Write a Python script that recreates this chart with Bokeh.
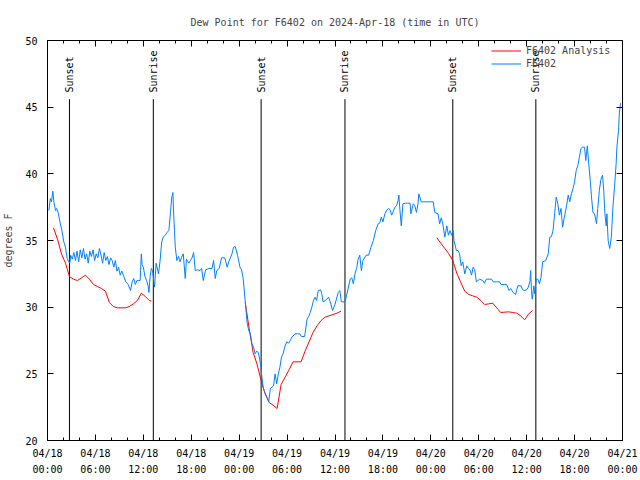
import math
from bokeh.plotting import figure
from bokeh.models import Range1d, FixedTicker, LinearAxis, Legend, LegendItem
from bokeh.core.properties import value
from bokeh.embed import file_html
from bokeh.resources import INLINE

FONT = "DejaVu Sans Mono"
NAN = float("nan")

# hours since 2024-04-18 00:00 UTC
obs_hours = [0.17, 0.35, 0.5, 0.67, 0.8, 1.0, 1.15, 1.33, 1.6, 1.8, 2.04, 2.25, 2.46, 2.67, 2.8, 2.9,
             3.1, 3.3, 3.5, 3.7, 3.9, 4.1, 4.3, 4.5, 4.7, 4.9, 5.1, 5.3, 5.5, 5.7, 5.9, 6.1, 6.3, 6.5,
             6.7, 6.9, 7.1, 7.3, 7.5, 7.7, 7.9, 8.1, 8.3, 8.5, 8.7, 8.9, 9.1, 9.3, 9.5, 9.8, 10.1,
             10.4, 10.6, 10.8, 11.0, 11.2, 11.4, 11.6, 11.75, 11.85, 12.0, 12.2, 12.4, 12.6, 12.7,
             12.85, 13.0, 13.15, 13.4, 13.6, 13.9, 14.1, 14.3, 14.5, 14.75, 14.96, 15.2, 15.4, 15.55,
             15.7, 15.8, 15.9, 16.0, 16.2, 16.4, 16.6, 16.8, 17.0, 17.25, 17.4, 17.5, 17.7, 17.9,
             18.1, 18.3, 18.5, 18.8, 19.1, 19.3, 19.5, 19.8, 20.2, 20.6, 20.8, 21.0, 21.2, 21.5,
             21.8, 22.2, 22.5, 22.7, 22.9, 23.1, 23.3, 23.5, 23.8, 24.1, 24.3, 24.5, 24.75, 25.0,
             25.2, 25.4, 25.6, 25.8, 26.0, 26.2, 26.4, 26.6, 26.7, 26.8, 27.0, 27.2, 27.5, 27.7,
             27.9, 28.1, 28.3, 28.5, 28.7, 28.9, 29.1, 29.3, 29.5, 29.7, 29.96, 30.2, 30.4, 30.6,
             31.0, 31.3, 31.6, 31.8, 32.2, 32.5, 32.7, 32.9, 33.1, 33.3, 33.5, 33.7, 33.9, 34.2,
             34.35, 34.5, 34.8, 35.0, 35.2, 35.4, 35.7, 36.0, 36.4, 36.6, 36.8, 37.25, 37.5, 37.9,
             38.1, 38.3, 38.5, 38.7, 38.9, 39.1, 39.3, 39.5, 39.9, 40.2, 40.5, 40.8, 41.1, 41.4,
             41.6, 41.8, 42.0, 42.25, 42.5, 42.7, 42.9, 43.1, 43.3, 43.5, 43.7, 43.9, 44.0, 44.1,
             44.3, 44.5, 44.8, 45.1, 45.4, 45.5, 45.8, 46.0, 46.2, 46.4, 46.5, 46.8, 47.0, 47.5,
             48.0, 48.3, 48.5, 48.9, 49.1, 49.3, 49.5, 49.75, 50.0, 50.2, 50.4, 50.6, 50.8, 50.9,
             51.2, 51.4, 51.6, 51.8, 52.0, 52.25, 52.5, 52.7, 52.9, 53.1, 53.3, 53.5, 53.7, 54.1,
             54.5, 54.7, 54.96, 55.3, 55.6, 55.8, 56.2, 56.6, 56.8, 57.2, 57.5, 57.8, 58.0, 58.3,
             58.6, 58.9, 59.3, 59.5, 59.75, 60.0, 60.2, 60.4, 60.5, 60.6, 60.7, 60.9, 61.0, 61.2,
             61.4, 61.6, 61.8, 62.0, 62.4, 62.7, 62.9, 63.1, 63.3, 63.5, 63.7, 63.9, 64.1, 64.3,
             64.5, 64.7, 65.0, 65.2, 65.4, 65.6, 65.8, 66.0, 66.2, 66.4, 66.6, 66.8, 67.0, 67.25,
             67.4, 67.6, 67.75, 67.96, 68.1, 68.3, 68.5, 68.75, 68.9, 69.1, 69.3, 69.5, 69.65, 69.8,
             69.96, 70.05, 70.2, 70.4, 70.6, 70.8, 71.0, 71.2, 71.3, 71.5, 71.6, 71.75]
obs_dewpt = [37.25, 38.15, 37.9, 38.7, 37.9, 37.25, 37.4, 37.1, 36.3, 35.75, 34.9, 34.5, 33.65, 33.4, 33.3, 33.9,
             33.6, 34.1, 33.5, 34.2, 33.4, 34.3, 33.7, 34.4, 33.6, 34.0, 33.3, 34.2, 33.8, 34.3, 33.5, 34.0, 33.7, 34.4,
             33.9, 33.3, 34.1, 33.5, 33.8, 33.2, 33.7, 33.5, 33.0, 33.5, 32.7, 33.0, 32.4, 32.7, 32.4, 31.9, 31.7,
             31.25, 31.9, 32.15, 31.7, 32.0, 32.0, 32.0, 34.0, 33.2, 33.0, 32.3, 32.0, 31.6, 31.1,
             32.3, 32.9, 32.75, 31.5, 33.3, 32.5, 33.5, 34.9, 35.25, 35.4, 35.6, 35.75, 37.1, 38.2,
             38.6, 37.0, 35.75, 34.5, 33.5, 33.8, 33.4, 33.75, 34.0, 32.15, 33.6, 33.5, 33.3, 33.5,
             33.7, 34.1, 32.75, 32.8, 32.75, 32.9, 32.0, 32.8, 32.9, 32.9, 33.5, 32.15, 32.75, 32.9,
             33.7, 33.7, 33.0, 33.4, 33.7, 34.0, 34.5, 34.55, 33.9, 33.0, 32.8, 32.15, 30.5, 28.8,
             28.25, 28.0, 27.25, 27.0, 26.5, 26.7, 26.6, 26.0, 25.6, 25.0, 24.0, 23.6, 23.25, 22.9,
             23.9, 24.0, 24.1, 25.0, 24.25, 25.0, 25.5, 26.25, 26.5, 27.0, 27.4, 27.3, 27.5, 27.75,
             28.0, 28.0, 28.0, 27.8, 27.8, 29.1, 29.3, 29.6, 30.0, 30.5, 30.75, 30.5, 31.25, 31.3,
             31.0, 30.4, 30.5, 30.6, 30.75, 30.4, 29.75, 30.2, 31.1, 31.25, 30.4, 30.4, 31.0, 32.1,
             32.2, 31.75, 32.5, 32.9, 33.6, 33.9, 32.75, 33.5, 33.9, 33.9, 34.5, 35.0, 35.75, 36.25,
             36.3, 36.75, 36.4, 37.0, 37.3, 37.4, 37.3, 36.9, 37.2, 37.5, 37.6, 38.0, 38.4, 37.5,
             36.1, 37.75, 37.8, 37.8, 37.8, 37.0, 37.75, 37.6, 37.1, 37.8, 38.5, 37.9, 37.9, 37.9,
             37.9, 37.9, 37.1, 37.0, 36.25, 36.7, 36.25, 35.25, 36.1, 35.4, 35.75, 35.4, 35.75, 35.0,
             34.25, 34.25, 34.0, 33.1, 33.4, 32.5, 33.1, 32.9, 32.8, 32.4, 33.0, 32.8, 31.9, 32.1,
             32.0, 31.8, 32.1, 32.1, 32.1, 31.9, 31.9, 31.9, 31.7, 31.7, 31.7, 31.25, 31.4, 31.1,
             30.95, 31.6, 31.6, 31.3, 31.25, 31.3, 31.5, 31.9, 32.75, 31.25, 30.6, 31.6, 31.0, 32.1,
             32.1, 31.75, 32.25, 33.4, 33.5, 34.0, 35.25, 35.3, 35.75, 37.0, 38.25, 37.75, 36.9, 37.4,
             36.0, 36.7, 37.6, 38.4, 37.9, 38.5, 38.9, 39.4, 40.25, 40.6, 41.25, 41.9, 42.0, 42.0,
             41.0, 42.1, 40.9, 39.5, 38.4, 37.1, 37.0, 36.25, 37.4, 38.75, 39.6, 39.9, 38.75, 37.0,
             36.1, 37.0, 35.0, 34.4, 35.25, 37.5, 39.0, 40.75, 42.0, 43.25, 44.5, 45.3]

# analysis, three night-time segments (NaN separates them)
ana_hours = [0.75, 1.25, 1.75, 2.25, 2.75, 3.25, 3.75, 4.25, 4.75, 5.25, 5.75, 6.25, 6.75, 7.25,
             7.75, 8.25, 8.75, 9.75, 10.25, 10.75, 11.25, 11.75, 12.25, 12.75, 13.0, NAN,
             24.75, 25.25, 25.75, 26.25, 26.75, 27.25, 27.75, 28.25, 28.75, 29.25, 29.75, 30.25,
             30.75, 31.75, 32.25, 32.75, 33.25, 33.75, 34.25, 34.75, 35.25, 35.75, 36.25, 36.75, NAN,
             48.75, 49.25, 49.75, 50.25, 50.75, 51.25, 51.75, 52.25, 52.75, 53.25, 53.75, 54.25,
             54.75, 55.25, 55.75, 56.25, 56.75, 57.75, 58.25, 58.75, 59.25, 59.75, 60.25, 60.75]
ana_dewpt = [35.95, 35.1, 34.0, 33.3, 32.3, 32.1, 32.0, 32.2, 32.4, 32.1, 31.7, 31.55, 31.4, 31.2,
             30.35, 30.05, 29.95, 29.95, 30.05, 30.25, 30.5, 31.05, 30.8, 30.5, 30.45, NAN,
             30.4, 28.4, 26.6, 25.7, 24.5, 23.5, 22.85, 22.65, 22.4, 24.2, 24.75, 25.3,
             25.9, 25.9, 26.7, 27.4, 28.1, 28.6, 29.0, 29.25, 29.35, 29.45, 29.55, 29.7, NAN,
             35.2, 34.8, 34.4, 34.0, 33.5, 32.55, 31.85, 31.2, 30.95, 30.85, 30.75, 30.5,
             30.2, 30.25, 30.3, 29.95, 29.6, 29.65, 29.6, 29.55, 29.35, 29.05, 29.5, 29.75]

event_hours = [2.75, 13.25, 26.75, 37.25, 50.75, 61.15]
event_labels = ["Sunset", "Sunrise", "Sunset", "Sunrise", "Sunset", "Sunrise"]

tick_hours = [0, 6, 12, 18, 24, 30, 36, 42, 48, 54, 60, 66, 72]
tick_labels = ["04/18\n00:00", "04/18\n06:00", "04/18\n12:00", "04/18\n18:00",
               "04/19\n00:00", "04/19\n06:00", "04/19\n12:00", "04/19\n18:00",
               "04/20\n00:00", "04/20\n06:00", "04/20\n12:00", "04/20\n18:00",
               "04/21\n00:00"]
minor_hours = [h for h in range(0, 73, 2) if h % 6 != 0]
y_ticks = [20, 25, 30, 35, 40, 45, 50]

p = figure(width=640, height=480, output_backend="svg", toolbar_location=None,
           x_range=Range1d(0, 72), y_range=Range1d(20, 50),
           title="Dew Point for F6402 on 2024-Apr-18 (time in UTC)",
           min_border_left=47, min_border_right=18, min_border_top=40, min_border_bottom=40)
p.title.align = "center"
p.title.text_font = FONT
p.title.text_font_size = "10px"
p.title.text_font_style = "normal"
p.title.standoff = 25
p.outline_line_color = "black"
p.xgrid.visible = False
p.ygrid.visible = False
p.background_fill_color = "white"
p.border_fill_color = "white"

xa = p.xaxis[0]
xa.ticker = FixedTicker(ticks=tick_hours, minor_ticks=minor_hours)
xa.major_label_overrides = dict(zip(tick_hours, tick_labels))
ya = p.yaxis[0]
ya.ticker = FixedTicker(ticks=y_ticks)
ya.axis_label = "degrees F"

def style_axis(ax, standoff):
    ax.major_tick_in = 6
    ax.major_tick_out = 0
    ax.minor_tick_in = 3
    ax.minor_tick_out = 0
    ax.axis_line_color = "black"
    ax.major_tick_line_color = "black"
    ax.minor_tick_line_color = "black"
    ax.major_label_text_font = FONT
    ax.major_label_text_font_size = "10px"
    ax.major_label_text_color = "black"
    ax.major_label_standoff = standoff
    ax.axis_label_text_font = FONT
    ax.axis_label_text_font_size = "10px"
    ax.axis_label_text_font_style = "normal"
    ax.axis_label_standoff = 8

style_axis(xa, 7)
xa.major_label_text_line_height = 1.5
style_axis(ya, 10)
ya.minor_tick_line_color = None

top = LinearAxis(ticker=FixedTicker(ticks=tick_hours, minor_ticks=minor_hours))
style_axis(top, 0)
top.major_label_overrides = {t: "" for t in tick_hours}
p.add_layout(top, "above")
right = LinearAxis(ticker=FixedTicker(ticks=y_ticks))
style_axis(right, 0)
right.major_label_overrides = {t: "" for t in y_ticks}
right.minor_tick_line_color = None
p.add_layout(right, "right")

# sunrise / sunset markers
p.segment(x0=event_hours, x1=event_hours, y0=[20] * 6, y1=[45.6] * 6,
          line_color="black", line_width=1)
p.text(x=event_hours, y=[46.1] * 6, text=event_labels, angle=math.pi / 2,
       text_align="left", text_baseline="middle", text_font=value(FONT),
       text_font_size="10px", text_color="black")

r_ana = p.line(ana_hours, ana_dewpt, line_color="#ff0000", line_width=1)
r_obs = p.line(obs_hours, obs_dewpt, line_color="#0080ff", line_width=1)

legend = Legend(items=[LegendItem(label="F6402 Analysis", renderers=[r_ana]),
                       LegendItem(label="F6402", renderers=[r_obs])],
                location=(444, 370))
legend.background_fill_alpha = 0
legend.border_line_color = None
legend.label_text_font = FONT
legend.label_text_font_size = "10px"
legend.glyph_width = 30
legend.glyph_height = 13
legend.label_height = 13
legend.label_standoff = 5
legend.spacing = 0
legend.padding = 1
legend.margin = 0
p.add_layout(legend)

open("out.html", "w").write(file_html(p, INLINE))
